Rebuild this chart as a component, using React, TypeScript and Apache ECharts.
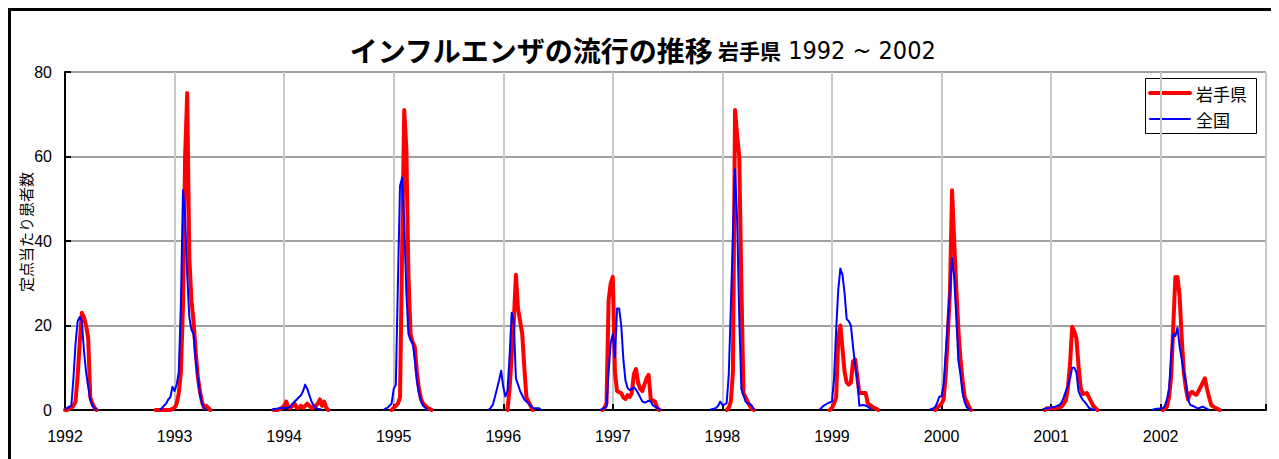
import React, { useEffect, useRef } from "react";
import * as echarts from "echarts";

// ---- axis / tick data ----
const yearLabels = ["1992", "1993", "1994", "1995", "1996", "1997", "1998", "1999", "2000", "2001", "2002"];
const WEEKS_PER_YEAR = 52;
const LAST_WEEK = 570;
const yMax = 80;
const yStep = 20;
const seriesNames = ["岩手県", "全国"];
const seriesColors = ["#ff0000", "#0000ff"];
const seriesWidths = [4, 2];

// ---- 岩手県 (weekly values per season; start week counted from 1992 week 1) ----
const iwateStarts = [0, 43, 99, 155, 210, 255, 314, 363, 413, 465, 521];
const iwate1992 = [0, 0, 0.3, 0.5, 1, 2, 8, 16, 23, 22, 20, 17, 3, 1.5, 0.5, 0];
const iwate1993 = [0, 0, 0, 0, 0, 0, 0, 0, 0.3, 0.5, 1.5, 4, 9, 25, 60, 75, 36, 26, 21, 14, 8, 4.5, 2, 0.5, 1, 0.5, 0];
const iwate1994 = [0, 0, 0, 0.3, 0.5, 1, 2, 0.5, 0.5, 1, 1.5, 0.5, 0.5, 1, 0.5, 1, 1.5, 1, 0.5, 0.5, 1, 1.5, 2.5, 1, 2, 0.5, 0];
const iwate1995 = [0, 0.5, 1, 1.5, 3, 38, 71, 62, 32, 18, 16, 15, 9, 5, 2.5, 1.5, 1, 0.5, 0.3, 0];
const iwate1996 = [0, 5, 13, 21, 32, 24, 21, 18, 10, 3, 2, 1, 0];
const iwate1997 = [0, 0.5, 1.6, 26, 30, 31.5, 9, 4.5, 4.2, 4, 3, 2.6, 3.5, 3.1, 4, 8.5, 9.7, 6.5, 5, 4.5, 6, 7.5, 8.3, 2.6, 2.2, 2, 0.6, 0];
const iwate1998 = [0, 0.5, 2, 9, 71, 65, 60, 30, 4, 3, 2, 1, 0.3, 0];
const iwate1999 = [0, 0.5, 1.5, 3, 17, 20, 14.5, 9, 6.5, 6, 6.5, 11.5, 12, 8, 4, 4, 4, 4, 1.6, 1.2, 0.8, 0.5, 0.3, 0];
const iwate2000 = [0, 0.5, 1, 1.5, 2.5, 8.4, 17.7, 28, 52, 40, 29, 19, 12, 7, 3, 2, 0.8, 0];
const iwate2001 = [0, 0.4, 0.4, 0.4, 0.4, 0.4, 0.5, 0.6, 0.8, 1.5, 2.2, 5.3, 11, 19.7, 18.6, 17, 10.5, 5.4, 3.8, 3.9, 4, 3, 2, 1, 0.5, 0];
const iwate2002 = [0, 0.3, 0.8, 3, 8, 20, 31.5, 31.5, 27, 17, 9, 5, 2.5, 4, 4.3, 3.8, 3.6, 4.5, 5.5, 6.5, 7.5, 5, 3, 1.2, 0.8, 0.5, 0.3, 0];

// ---- 全国 ----
const zenkokuStarts = [0, 45, 98, 151, 201, 254, 306, 358, 410, 464, 516];
const zenkoku1992 = [0, 0.5, 0.8, 1, 7.5, 15.7, 21, 22, 21, 14, 9, 5.5, 2.5, 1, 0.5, 0];
const zenkoku1993 = [0, 0.5, 1, 1.5, 2.5, 3, 5.5, 4.5, 6, 9, 25, 52, 46, 32, 22, 19, 18, 12, 8, 4, 1.5, 0.5, 0];
const zenkoku1994 = [0, 0.2, 0.3, 0.3, 0.5, 0.5, 0.5, 0.5, 0.5, 0.8, 1.5, 2, 2.5, 3, 3.5, 4.5, 6, 5, 3.5, 2, 1, 0.5, 0.3, 0.2, 0];
const zenkoku1995 = [0, 0.3, 0.5, 1, 1.5, 5, 6, 30, 53, 55, 44, 28, 18, 16.5, 16, 12, 7, 4, 2, 1, 0.5, 0];
const zenkoku1996 = [0, 0.5, 1.2, 3, 5, 7, 9.3, 5.5, 3.2, 4.5, 12.7, 23, 21, 7.5, 6, 4.5, 3.5, 2.5, 2, 1.5, 1, 0.5, 0.4, 0.4, 0.4, 0];
const zenkoku1997 = [0, 0.2, 0.5, 0.8, 9, 16, 18, 12.5, 24, 24, 20, 12, 7, 5.2, 4.7, 5, 5.4, 4.8, 4, 3, 2, 1.8, 1.9, 2.2, 2, 1.1, 0.8, 0.5, 0.3, 0];
const zenkoku1998 = [0, 0.2, 0.3, 0.5, 1, 2, 1.2, 1.3, 1.6, 8, 24, 42, 57, 45, 22, 5, 3.5, 2, 1.5, 1.5, 1, 0];
const zenkoku1999 = [0, 0.5, 1, 1.3, 1.6, 1.8, 2, 7.5, 19, 28.5, 33.5, 32, 27.6, 21.5, 21, 20, 15, 10.5, 7.5, 1, 1.1, 1.2, 1, 0.8, 0.4, 0];
const zenkoku2000 = [0, 0.2, 0.4, 0.7, 1.8, 3.2, 3.2, 6.2, 13.5, 21, 28.2, 36, 31.5, 22, 11.7, 8.3, 4, 1.8, 0.6, 0.3, 0];
const zenkoku2001 = [0.2, 0.3, 0.4, 0.5, 0.6, 0.7, 0.8, 1, 1.2, 1.8, 3, 4.5, 5.8, 7.5, 10, 10, 9, 4.5, 3.3, 2.4, 1.9, 1.2, 0.5, 0.3, 0.1, 0];
const zenkoku2002 = [0, 0.2, 0.3, 0.3, 0.4, 0.4, 1, 2.5, 5, 13, 18, 17.5, 19.5, 15, 12, 9, 6.5, 2.5, 1.2, 1, 0.8, 0.5, 0.4, 0.6, 0.8, 0.5, 0.3, 0];

const iwateSeasons = [iwate1992, iwate1993, iwate1994, iwate1995, iwate1996, iwate1997, iwate1998, iwate1999, iwate2000, iwate2001, iwate2002];
const zenkokuSeasons = [zenkoku1992, zenkoku1993, zenkoku1994, zenkoku1995, zenkoku1996, zenkoku1997, zenkoku1998, zenkoku1999, zenkoku2000, zenkoku2001, zenkoku2002];

function buildData(starts: number[], seasons: number[][]) {
  const out: any[] = [];
  seasons.forEach((vals, i) => {
    if (i > 0) out.push([starts[i] - 0.5, "-"]);
    vals.forEach((v, j) => out.push([starts[i] + j, v]));
  });
  return out;
}

const JP = "'Noto Sans CJK JP', sans-serif";
const NUM = "'Liberation Sans', Arial, sans-serif";
const NARROW = "'Liberation Sans Narrow', 'DejaVu Sans Condensed', Arial, sans-serif";

// legend box (drawn as graphic so the icons are plain lines)
const LEG_X = 1134;
const LEG_Y = 67;
const LEG_W = 111;
const LEG_H = 55;

export default function App() {
  const ref = useRef<HTMLDivElement>(null);
  useEffect(() => {
    if (!ref.current) return;
    const chart = echarts.init(ref.current, undefined, { renderer: "svg" });
    const legendItems: any[] = [];
    seriesNames.forEach((name, i) => {
      const cy = LEG_Y + 15 + i * 26;
      legendItems.push({
        type: "line",
        shape: { x1: LEG_X + 5, y1: cy, x2: LEG_X + 45, y2: cy },
        style: { stroke: seriesColors[i], lineWidth: seriesWidths[i], lineCap: "round" },
      });
      legendItems.push({
        type: "text",
        x: LEG_X + 51,
        y: cy,
        style: { text: name, fontSize: 17, fontFamily: JP, fill: "#000", verticalAlign: "middle", align: "left" },
      });
    });
    chart.setOption({
      animation: false,
      backgroundColor: "#fff",
      title: {
        text: "{a|インフルエンザの流行の推移}{b| 岩手県}{c| 1992 ~ 2002}",
        left: "center",
        top: 20,
        textStyle: {
          rich: {
            a: { fontSize: 28, fontWeight: "bold", fontFamily: JP, color: "#000" },
            b: { fontSize: 21, fontWeight: "bold", fontFamily: JP, color: "#000" },
            c: { fontSize: 25, fontWeight: "normal", fontFamily: NARROW, color: "#000" },
          },
        },
      },
      graphic: [
        {
          type: "text",
          x: 14,
          y: 221,
          rotation: Math.PI / 2,
          style: {
            text: "定点当たり患者数",
            fontSize: 15,
            fontFamily: JP,
            fill: "#000",
            align: "center",
            verticalAlign: "middle",
          },
        },
        {
          type: "group",
          z: 100,
          children: [
            {
              type: "rect",
              shape: { x: LEG_X + 0.5, y: LEG_Y + 0.5, width: LEG_W, height: LEG_H },
              style: { fill: "#fff", stroke: "#000", lineWidth: 1 },
            },
            ...legendItems,
          ],
        },
      ],
      grid: { left: 54, right: 8, top: 61, bottom: 75 },
      xAxis: {
        type: "value",
        min: 0,
        max: LAST_WEEK,
        interval: WEEKS_PER_YEAR,
        axisLine: { lineStyle: { color: "#000", width: 2 } },
        axisTick: { inside: true, length: 6, lineStyle: { color: "#000", width: 2 } },
        axisLabel: {
          margin: 18,
          fontSize: 16,
          color: "#000",
          fontFamily: NUM,
          formatter: (v: number) => {
            const i = v / WEEKS_PER_YEAR;
            return Number.isInteger(i) && i < yearLabels.length ? yearLabels[i] : "";
          },
        },
        splitLine: { show: true, lineStyle: { color: "#c8c8c8", width: 2 } },
      },
      yAxis: {
        type: "value",
        min: 0,
        max: yMax,
        interval: yStep,
        axisLine: { show: true, lineStyle: { color: "#000", width: 2 } },
        axisTick: { show: true, inside: true, length: 6, lineStyle: { color: "#000", width: 2 } },
        axisLabel: { margin: 13, fontSize: 16, color: "#000", fontFamily: NUM },
        splitLine: { show: true, lineStyle: { color: "#a0a0a0", width: 2 } },
      },
      series: [
        {
          name: seriesNames[0],
          type: "line",
          data: buildData(iwateStarts, iwateSeasons),
          symbol: "none",
          connectNulls: false,
          lineStyle: { color: seriesColors[0], width: seriesWidths[0], join: "round", cap: "round" },
          itemStyle: { color: seriesColors[0] },
          z: 2,
        },
        {
          name: seriesNames[1],
          type: "line",
          data: buildData(zenkokuStarts, zenkokuSeasons),
          symbol: "none",
          connectNulls: false,
          lineStyle: { color: seriesColors[1], width: seriesWidths[1], join: "round" },
          itemStyle: { color: seriesColors[1] },
          z: 3,
        },
      ],
    });
    return () => chart.dispose();
  }, []);
  return (
    <div
      style={{
        width: 1269,
        height: 480,
        border: "3px solid #000",
        boxSizing: "border-box",
        background: "#fff",
      }}
    >
      <div ref={ref} style={{ width: 1263, height: 474 }} />
    </div>
  );
}
